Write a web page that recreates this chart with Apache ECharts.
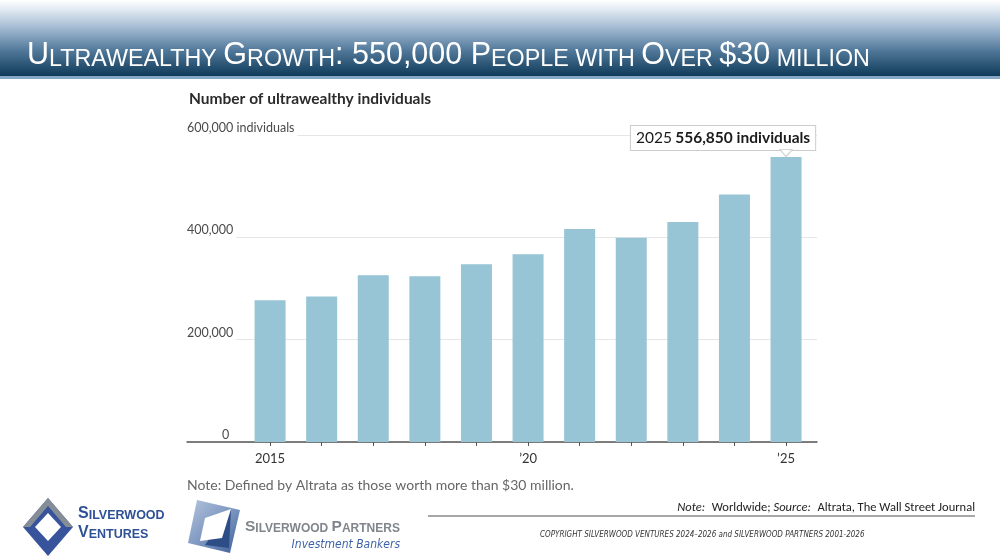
<!DOCTYPE html>
<html>
<head>
<meta charset="utf-8">
<script src="https://cdn.jsdelivr.net/npm/echarts@6/dist/echarts.min.js"></script>
<style>
html,body{margin:0;padding:0;background:#fff;}
#chart{width:1000px;height:560px;}
</style>
</head>
<body>
<div id="chart"></div>
<script>
// ---- data ----
const years = [2015, 2016, 2017, 2018, 2019, 2020, 2021, 2022, 2023, 2024, 2025];
const individuals = [277000, 284500, 326000, 324000, 347500, 367000, 416500, 399000, 430000, 483500, 556850];
const yTicks = [0, 200000, 400000, 600000];
const labeledYears = [2015, 2020, 2025];
const calloutYear = 2025;
const calloutValue = 556850;

const HUM = "Lato,'Open Sans',sans-serif";
const NARROW = "'DejaVu Sans Condensed','Liberation Sans Narrow',sans-serif";

const chart = echarts.init(document.getElementById('chart'));

function fmtNum(v){ return v.toLocaleString('en-US'); }

const barData = years.map((y, i) => {
  const d = { value: [y, individuals[i]] };
  if (y === calloutYear) {
    d.label = {
      show: true,
      position: 'top',
      distance: 7,
      offset: [-63, 0],
      formatter: '{a|' + calloutYear + '} {b|' + fmtNum(calloutValue) + ' individuals}',
      backgroundColor: '#fff',
      borderColor: '#cccccc',
      borderWidth: 1,
      padding: [4, 5, 4, 5],
      rich: {
        a: { fontFamily: HUM, fontSize: 15.5, color: '#1a1a1a' },
        b: { fontFamily: HUM, fontSize: 15.5, fontWeight: 'bold', color: '#1a1a1a' }
      }
    };
  }
  return d;
});

const option = {
  animation: false,
  title: {
    text: 'Number of ultrawealthy individuals',
    left: 184, top: 86,
    textStyle: { fontFamily: HUM, fontSize: 15.5, fontWeight: 'bold', color: '#2b2b2b' }
  },
  grid: { left: 187, right: 183, top: 135, bottom: 118 },
  xAxis: {
    type: 'value',
    min: 2013.39,
    max: 2025.6,
    splitLine: { show: false },
    axisLine: { show: true, lineStyle: { color: '#555', width: 1.5 } },
    axisTick: { show: true, customValues: years, length: 4, lineStyle: { color: '#555', width: 1 } },
    axisLabel: {
      customValues: labeledYears,
      margin: 10,
      fontFamily: HUM, fontSize: 13, color: '#333',
      formatter: v => (v === labeledYears[0] ? String(v) : '\u2019' + String(v).slice(2))
    }
  },
  yAxis: [
    {
      type: 'value', min: 0, max: 600000, interval: 200000,
      axisLine: { show: false }, axisTick: { show: false },
      axisLabel: { show: false },
      splitLine: { show: true, lineStyle: { color: '#e6e6e6', width: 1 } },
      z: 0
    },
    {
      type: 'value', min: 0, max: 600000, interval: 200000,
      position: 'left',
      axisLine: { show: false }, axisTick: { show: false },
      splitLine: { show: false },
      z: 10,
      axisLabel: {
        inside: true,
        margin: 0,
        verticalAlign: 'middle',
        formatter: v => {
          if (v === 0) return '{z|0}';
          if (v === yTicks[yTicks.length - 1]) return '{a|' + fmtNum(v) + ' individuals}';
          return '{a|' + fmtNum(v) + '}';
        },
        rich: {
          a: { fontFamily: HUM, fontSize: 12.5, color: '#4a4a4a', backgroundColor: '#fff', padding: [0, 3, 14, 0] },
          z: { fontFamily: HUM, fontSize: 12.5, color: '#4a4a4a', padding: [0, 0, 14, 35] }
        }
      }
    }
  ],
  series: [
    {
      type: 'bar',
      xAxisIndex: 0, yAxisIndex: 0,
      barWidth: 31,
      itemStyle: { color: '#97c5d5' },
      data: barData,
      markPoint: {
        symbol: 'triangle',
        symbolRotate: 180,
        symbolSize: [12, 7],
        symbolOffset: [0, -4],
        itemStyle: { color: '#fff', borderColor: '#cccccc', borderWidth: 1 },
        label: { show: false },
        data: [{ coord: [calloutYear, calloutValue] }]
      }
    }
  ],
  graphic: [
    // header band
    {
      type: 'rect', left: 0, top: 0, z: -1,
      shape: { width: 1000, height: 76 },
      style: {
        fill: new echarts.graphic.LinearGradient(0, 0, 0, 1, [
          { offset: 0, color: '#ffffff' },
          { offset: 0.12, color: '#e3ebf3' },
          { offset: 0.38, color: '#9fb8d0' },
          { offset: 0.68, color: '#4d7597' },
          { offset: 1, color: '#0f3a58' }
        ])
      }
    },
    { type: 'rect', left: 0, top: 76, z: -1, shape: { width: 1000, height: 3 }, style: { fill: '#86a7c6' } },
    {
      type: 'text', left: 27, top: 40,
      style: {
        text: '{b|U}{s|LTRAWEALTHY }{b|G}{s|ROWTH}{b|: 550,000 P}{s|EOPLE WITH }{b|O}{s|VER }{b|$30}{s| MILLION}',
        rich: {
          b: { fontFamily: "'Liberation Sans',Arial,sans-serif", fontSize: 30.5, fill: '#fff', verticalAlign: 'bottom', lineHeight: 31 },
          s: { fontFamily: "'Liberation Sans',Arial,sans-serif", fontSize: 23.3, fill: '#fff', verticalAlign: 'bottom', lineHeight: 31 }
        }
      }
    },
    // note under chart
    {
      type: 'text', left: 187, top: 478,
      style: { text: 'Note: Defined by Altrata as those worth more than $30 million.', fontFamily: HUM, fontSize: 14, fill: '#666' }
    },
    // source note
    {
      type: 'text', right: 25, top: 501,
      style: {
        text: '{i|Note:}  {n|Worldwide; }{i|Source:}  {n|Altrata, The Wall Street Journal}',
        rich: {
          i: { fontFamily: "'Carlito','Liberation Sans Narrow',sans-serif", fontStyle: 'italic', fontSize: 12.5, fill: '#222' },
          n: { fontFamily: "'Carlito','Liberation Sans Narrow',sans-serif", fontSize: 12.5, fill: '#222' }
        }
      }
    },
    { type: 'line', shape: { x1: 428, y1: 516, x2: 975, y2: 516 }, style: { stroke: '#8a8a8a', lineWidth: 1.5 } },
    {
      type: 'text', left: 540, top: 531,
      style: { text: 'COPYRIGHT SILVERWOOD VENTURES 2024\u20132026 and SILVERWOOD PARTNERS 2001-2026', fontFamily: NARROW, fontStyle: 'italic', fontSize: 8, fill: '#333' }
    },
    // Silverwood Ventures logo
    { type: 'polygon', shape: { points: [[23, 527], [48, 498], [73, 527], [48, 556]] }, style: { fill: '#36539c' } },
    { type: 'polygon', shape: { points: [[23, 527], [48, 498], [73, 527], [66, 527], [48, 506], [30, 527]] }, style: { fill: '#858d95' } },
    { type: 'polygon', shape: { points: [[35, 527], [48, 513], [61, 527], [48, 541]] }, style: { fill: '#ffffff' } },
    {
      type: 'text', left: 78, top: 506,
      style: {
        text: '{B|S}{s|ILVERWOOD}\n{B|V}{s|ENTURES}',
        rich: {
          B: { fontFamily: "'Liberation Sans',sans-serif", fontWeight: 'bold', fontSize: 16, fill: '#2f5196', verticalAlign: 'bottom', lineHeight: 19 },
          s: { fontFamily: "'Liberation Sans',sans-serif", fontWeight: 'bold', fontSize: 12.5, fill: '#2f5196', verticalAlign: 'bottom', lineHeight: 19 }
        }
      }
    },
    // Silverwood Partners logo
    {
      type: 'polygon', shape: { points: [[197, 500], [240, 510], [230, 553], [188, 543]] },
      style: { fill: new echarts.graphic.LinearGradient(0, 0, 1, 1, [{ offset: 0, color: '#b4c4dc' }, { offset: 0.5, color: '#7f98c2' }, { offset: 1, color: '#3d5f98' }]) }
    },
    { type: 'polygon', shape: { points: [[218, 526], [231, 509], [229, 548], [205, 545]] }, style: { fill: '#2d4d86' } },
    { type: 'polygon', shape: { points: [[205, 518], [231, 509], [222, 538], [200, 541]] }, style: { fill: '#ffffff' } },
    {
      type: 'text', left: 245, top: 519,
      style: {
        text: '{B|S}{s|ILVERWOOD }{B|P}{s|ARTNERS}',
        rich: {
          B: { fontFamily: "'Liberation Sans',sans-serif", fontWeight: 'bold', fontSize: 15.5, fill: '#80868c', verticalAlign: 'bottom', lineHeight: 18 },
          s: { fontFamily: "'Liberation Sans',sans-serif", fontWeight: 'bold', fontSize: 12, fill: '#80868c', verticalAlign: 'bottom', lineHeight: 18 }
        }
      }
    },
    {
      type: 'text', right: 600, top: 539,
      style: { text: 'Investment Bankers', fontFamily: NARROW, fontStyle: 'italic', fontSize: 12, fill: '#3f63a8' }
    }
  ]
};

chart.setOption(option);
</script>
</body>
</html>
